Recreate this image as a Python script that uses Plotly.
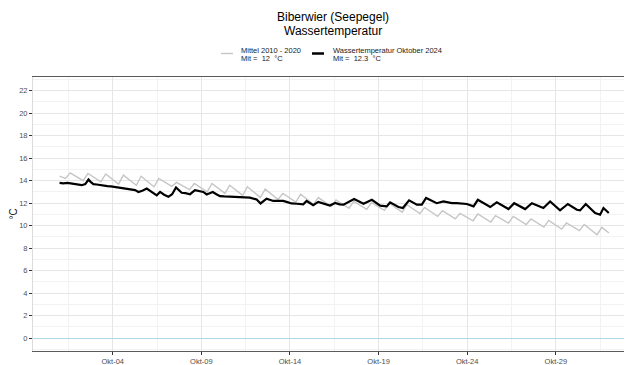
import plotly.graph_objects as go

# ---------------- data ----------------
TITLE_LINES = ["Biberwier (Seepegel)", "Wassertemperatur"]
SERIES_NAMES = ["Mittel 2010 - 2020", "Wassertemperatur Oktober 2024"]
SERIES_MEANS = ["Mit =  12  °C", "Mit =  12.3  °C"]
TICK_LABELS = ["Okt-04", "Okt-09", "Okt-14", "Okt-19", "Okt-24", "Okt-29"]
TICK_DAYS = [3, 8, 13, 18, 23, 28]          # days after 1 Oct 00:00
Y_TICKS = list(range(0, 23, 2))

# long-term mean (grey): daily minimum (~08h) and maximum (~14h)
MEAN_START = 14.4
MEAN_END = 9.35
MEAN_TROUGH = [14.2, 14.0, 13.9, 13.7, 13.6, 13.46, 13.5, 13.2, 13.0, 12.87,
               12.7, 12.5, 12.33, 12.1, 11.9, 11.7, 11.55, 11.45, 11.36, 11.2,
               11.07, 10.83, 10.6, 10.44, 10.33, 10.24, 10.1, 9.88, 9.7, 9.56, 9.2]
MEAN_PEAK = [14.7, 14.64, 14.6, 14.5, 14.4, 14.2, 13.85, 13.75, 13.75, 13.6,
             13.46, 13.25, 12.87, 12.8, 12.5, 12.3, 12.16, 12.05, 12.0, 11.87,
             11.63, 11.33, 11.1, 11.04, 10.9, 10.83, 10.6, 10.47, 10.24, 10.1, 9.85]

# October 2024 (black): time in days since 1 Oct 00:00 and temperature
OCT_T = [0.0, 0.2, 0.45, 0.7, 0.87, 1.05, 1.25, 1.45, 1.63, 1.75, 1.91, 2.1, 2.28,
         2.5, 2.7, 2.9, 3.04, 3.25, 3.4, 3.6, 3.79, 4.0, 4.26, 4.45, 4.7,
         4.92, 5.2, 5.48, 5.67, 5.9, 6.14, 6.35, 6.57, 6.75, 6.89, 7.1, 7.36,
         7.64, 7.9, 8.11, 8.3, 8.64, 8.85, 9.05, 9.3, 9.6, 9.9, 10.18, 10.45,
         10.74, 11.12, 11.34, 11.68, 11.9, 12.06, 12.35, 12.62, 12.85, 13.09,
         13.4, 13.75, 13.94, 14.31, 14.6, 14.9, 15.25, 15.55, 15.8, 16.02,
         16.62, 17.15, 17.62, 18.09, 18.46, 18.65, 19.12, 19.37, 19.72, 20.16,
         20.44, 20.68, 21.0, 21.28, 21.66, 22.13, 22.41, 22.7, 22.98, 23.36,
         23.6, 24.3, 24.67, 25.33, 25.65, 26.27, 26.65, 27.3, 27.68, 28.24,
         28.68, 29.19, 29.37, 29.69, 30.22, 30.5, 30.69, 30.99]
OCT_V = [13.8, 13.76, 13.8, 13.74, 13.75, 13.66, 13.6, 13.7, 14.1, 13.9, 13.7,
         13.66, 13.6, 13.58, 13.52, 13.5, 13.46, 13.45, 13.38, 13.36, 13.3, 13.25,
         13.16, 13.0, 13.12, 13.3, 13.0, 12.7, 13.0, 12.75, 12.57, 12.8, 13.4,
         13.1, 12.93, 12.9, 12.8, 13.16, 13.1, 13.0, 12.78, 13.0, 12.8, 12.63,
         12.6, 12.58, 12.57, 12.57, 12.55, 12.5, 12.33, 11.98, 12.4, 12.25, 12.2,
         12.22, 12.2, 12.1, 11.98, 11.95, 11.9, 12.2, 11.83, 12.12, 11.95, 11.8,
         12.02, 11.9, 11.87, 12.37, 11.95, 12.3, 11.78, 11.72, 12.07, 11.66,
         11.57, 12.25, 11.87, 11.87, 12.46, 12.2, 12.0, 12.16, 12.0, 12.0, 11.98,
         11.93, 11.72, 12.3, 11.66, 12.07, 11.48, 12.0, 11.48, 12.0, 11.57,
         12.16, 11.36, 11.93, 11.42, 11.36, 11.93, 11.13, 10.98, 11.57, 11.13]

# ---------------- build grey series (min ~08h, max ~14h each day) ----------------
mean_x = [0.0]
mean_y = [MEAN_START]
for d, (lo, hi) in enumerate(zip(MEAN_TROUGH, MEAN_PEAK)):
    mean_x += [d + 0.33, d + 0.6]
    mean_y += [lo, hi]
mean_x.append(31.0)
mean_y.append(MEAN_END)

# the page has an 8 px body margin: figure is placed at (8, 8) in the window
OFF = 8
W, H = 632 - OFF, 365 - OFF
L, R, T, B = 33 - OFF, 0, 77 - OFF, 14
GREY = "#c6c6c6"
FONT = "Liberation Sans, Arial, sans-serif"

fig = go.Figure()
fig.add_trace(go.Scatter(x=mean_x, y=mean_y, mode="lines",
                         line=dict(color=GREY, width=1.4), showlegend=False,
                         name=SERIES_NAMES[0]))
fig.add_trace(go.Scatter(x=OCT_T, y=OCT_V, mode="lines",
                         line=dict(color="black", width=2.2), showlegend=False,
                         name=SERIES_NAMES[1]))


def px2paper_x(px):          # px: window pixel
    return (px - OFF - L) / (W - L - R)


def px2paper_y(py):
    return (H - B - (py - OFF)) / (H - T - B)


shapes = []
annotations = []
legend_items = [
    (221, 233, 239, GREY, 1.4),
    (312, 324, 331, "black", 2.5),
]
for (x0, x1, xt, col, wd), nm, mn in zip(legend_items, SERIES_NAMES, SERIES_MEANS):
    shapes.append(dict(type="line", xref="paper", yref="paper",
                       x0=px2paper_x(x0), x1=px2paper_x(x1),
                       y0=px2paper_y(53.5), y1=px2paper_y(53.5),
                       line=dict(color=col, width=wd)))
    for txt, yy in ((nm, 50.0), (mn, 58.0)):
        annotations.append(dict(text=txt, xref="paper", yref="paper",
                                x=px2paper_x(xt), y=px2paper_y(yy),
                                xanchor="left", yanchor="middle", showarrow=False,
                                font=dict(family=FONT, size=7.5, color="#1a1a1a")))

for txt, yy in zip(TITLE_LINES, (17.0, 31.0)):
    annotations.append(dict(text=txt, xref="paper", yref="paper",
                            x=0.5, y=px2paper_y(yy), xanchor="center",
                            yanchor="middle", showarrow=False,
                            font=dict(family=FONT, size=12, color="black")))

fig.update_layout(
    template="none",
    width=W, height=H,
    margin=dict(l=L, r=R, t=T, b=B, pad=0),
    paper_bgcolor="white", plot_bgcolor="white",
    font=dict(family=FONT, size=8, color="#4d4d4d"),
    shapes=shapes, annotations=annotations,
    showlegend=False,
)

fig.update_xaxes(
    range=[-1.5, 32.3], automargin=False,
    tickmode="array", tickvals=TICK_DAYS, ticktext=TICK_LABELS,
    tickfont=dict(family=FONT, size=7.5, color="#4d4d4d"),
    ticks="outside", ticklen=3, tickcolor="#333333", tickwidth=1,
    showgrid=True, gridcolor="#e6e6e6", gridwidth=1,
    minor=dict(tickmode="array", tickvals=[d - 2.5 for d in TICK_DAYS] + [TICK_DAYS[-1] + 2.5],
               showgrid=True, gridcolor="#f2f2f2", gridwidth=1, ticks=""),
    showline=True, linecolor="#5a5a5a", linewidth=1, mirror=True,
    zeroline=False, fixedrange=True,
)

fig.update_yaxes(
    range=[-1.14, 23.22], automargin=False,
    tickmode="array", tickvals=Y_TICKS,
    tickfont=dict(family=FONT, size=7.5, color="#4d4d4d"),
    ticks="outside", ticklen=3, tickcolor="#333333", tickwidth=1,
    showgrid=True, gridcolor="#e6e6e6", gridwidth=1,
    minor=dict(dtick=1, tick0=1, showgrid=True, gridcolor="#f2f2f2", gridwidth=1, ticks=""),
    showline=True, linecolor="#dcdcdc", linewidth=1,
    zeroline=True, zerolinecolor="#add8e6", zerolinewidth=1,
    title=dict(text="°C", font=dict(family=FONT, size=10, color="#1a1a1a"), standoff=3),
    fixedrange=True,
)

fig.write_html("out.html")
